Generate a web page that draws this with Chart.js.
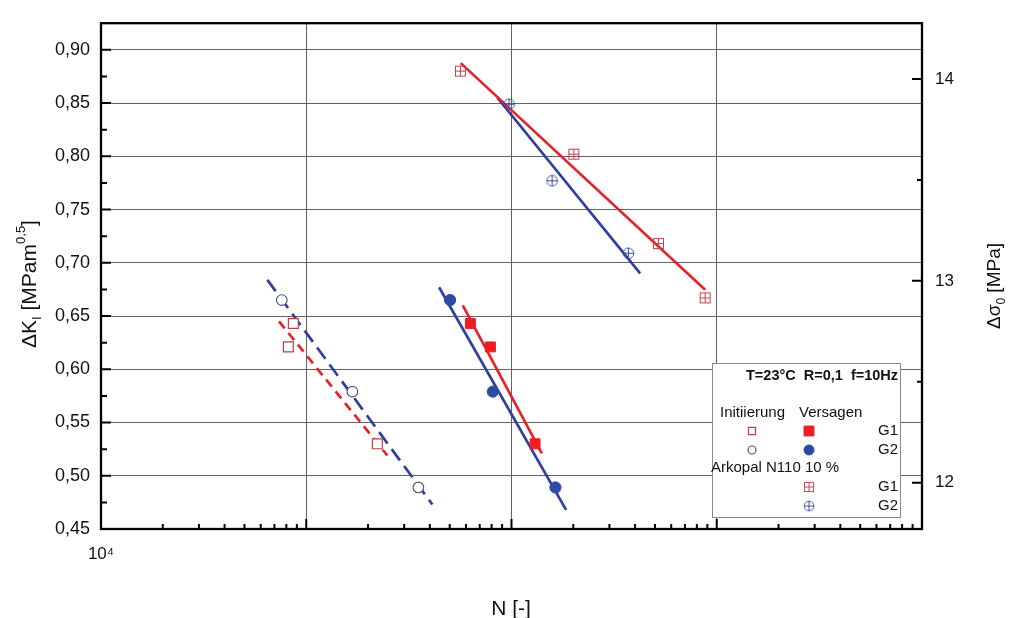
<!DOCTYPE html>
<html>
<head>
<meta charset="utf-8">
<script src="https://cdn.jsdelivr.net/npm/chart.js@4.4.0/dist/chart.umd.min.js"></script>
<style>
  html, body { margin: 0; padding: 0; background: #fff; }
  #wrap { width: 1009px; height: 618px; }
</style>
</head>
<body>
<div id="wrap"><canvas id="chart" width="1009" height="618"></canvas></div>
<script>
const FONT = "'Liberation Sans', Arial, sans-serif";

// Initiierung (offene Symbole)
const initG1N = [81800, 86500, 222000];
const initG1K = [0.621, 0.643, 0.530];
const initG2N = [76000, 167800, 351800];
const initG2K = [0.665, 0.579, 0.489];

// Versagen (gefuellte Symbole)
const failG1N = [630500, 789500, 1303000];
const failG1K = [0.643, 0.621, 0.530];
const failG2N = [502000, 811000, 1637000];
const failG2K = [0.665, 0.579, 0.489];

// Arkopal N110 10 %
const arkG1N = [563600, 2012000, 5200000, 8780000];
const arkG1K = [0.880, 0.802, 0.718, 0.667];
const arkG2N = [973000, 1577000, 3713000];
const arkG2K = [0.849, 0.777, 0.709];

// Ausgleichsgeraden, Anfang und Ende
const initG1FitN = [73700, 248500];
const initG1FitK = [0.645, 0.519];
const initG2FitN = [64640, 411600];
const initG2FitK = [0.684, 0.473];
const failG1FitN = [579000, 1405000];
const failG1FitK = [0.660, 0.521];
const failG2FitN = [443800, 1845000];
const failG2FitK = [0.677, 0.468];
const arkG1FitN = [566000, 8780000];
const arkG1FitK = [0.8875, 0.6746];
const arkG2FitN = [853800, 4233000];
const arkG2FitK = [0.855, 0.690];

// Achsen
const xTicks = [1e4, 1e5, 1e6, 1e7, 1e8];
const xTickLabels = ['10⁴', '', '', '', ''];
const yTicks = [0.45, 0.50, 0.55, 0.60, 0.65, 0.70, 0.75, 0.80, 0.85, 0.90];
const y2Ticks = [12, 13, 14];

const RED = '#e5232b';
const BLUE = '#2f3f9e';
const GRID = '#626262';

const pts = (n, k) => n.map((v, i) => ({ x: v, y: k[i] }));

function crossSquare(color) {
  const c = document.createElement('canvas');
  c.width = 13; c.height = 13;
  const g = c.getContext('2d');
  g.strokeStyle = color; g.lineWidth = 1;
  g.strokeRect(1.5, 1.5, 10, 10);
  g.beginPath(); g.moveTo(6.5, 1.5); g.lineTo(6.5, 11.5); g.moveTo(1.5, 6.5); g.lineTo(11.5, 6.5); g.stroke();
  return c;
}
function crossCircle(color) {
  const c = document.createElement('canvas');
  c.width = 13; c.height = 13;
  const g = c.getContext('2d');
  g.strokeStyle = color; g.lineWidth = 1;
  g.beginPath(); g.arc(6.5, 6.5, 5.3, 0, Math.PI * 2); g.stroke();
  g.beginPath(); g.moveTo(6.5, 1.2); g.lineTo(6.5, 11.8); g.moveTo(1.2, 6.5); g.lineTo(11.8, 6.5); g.stroke();
  return c;
}
const sqCross = crossSquare('#c2404a');
const ciCross = crossCircle('#3a4a99');

const mk = {
  initG1: { pointStyle: 'rect', pointRadius: 7, backgroundColor: '#fff', borderColor: '#b8423f', borderWidth: 1.2 },
  initG2: { pointStyle: 'circle', pointRadius: 5.3, backgroundColor: '#fff', borderColor: '#54567a', borderWidth: 1.2 },
  failG1: { pointStyle: 'rect', pointRadius: 7, backgroundColor: '#ee1c25', borderColor: '#ee1c25', borderWidth: 1 },
  failG2: { pointStyle: 'circle', pointRadius: 5.6, backgroundColor: '#2d4aa6', borderColor: '#2d4aa6', borderWidth: 1 },
  arkG1: { pointStyle: sqCross, pointRadius: 6 },
  arkG2: { pointStyle: ciCross, pointRadius: 6 }
};

const pointSet = (data, m) => ({ data, showLine: false, ...m, pointBorderColor: m.borderColor, pointBackgroundColor: m.backgroundColor, pointBorderWidth: m.borderWidth });
const lineSet = (data, color, dash) => ({
  data, showLine: true, pointRadius: 0, borderColor: color, borderWidth: 2.7, borderDash: dash || []
});

function richText(ctx, parts, cx, cy, angle) {
  ctx.save();
  ctx.translate(cx, cy);
  ctx.rotate(angle);
  ctx.textBaseline = 'alphabetic';
  ctx.textAlign = 'left';
  ctx.fillStyle = '#111';
  let w = 0;
  parts.forEach(p => { ctx.font = `${p.size}px ${FONT}`; p.w = ctx.measureText(p.t).width; w += p.w; });
  let x = -w / 2;
  const base = parts[0].size * 0.36;
  parts.forEach(p => { ctx.font = `${p.size}px ${FONT}`; ctx.fillText(p.t, x, base + (p.dy || 0)); x += p.w; });
  ctx.restore();
}

// Rahmen, innenliegende Teilstriche, Achsentitel und Legende
const decor = {
  id: 'decor',
  afterDatasetsDraw(chart) {
    const { ctx, chartArea: a, scales: { x, y, y2 } } = chart;
    ctx.save();
    ctx.strokeStyle = '#000';
    ctx.lineWidth = 2;
    ctx.beginPath();
    yTicks.forEach((v, i) => {
      const p = y.getPixelForValue(v);
      ctx.moveTo(a.left, p); ctx.lineTo(a.left + 10, p);
      if (i < yTicks.length - 1) {
        const m = y.getPixelForValue((v + yTicks[i + 1]) / 2);
        ctx.moveTo(a.left, m); ctx.lineTo(a.left + 6, m);
      }
    });
    y2Ticks.forEach((v, i) => {
      const p = y2.getPixelForValue(v);
      ctx.moveTo(a.right, p); ctx.lineTo(a.right - 10, p);
      if (i < y2Ticks.length - 1) {
        const m = y2.getPixelForValue((v + y2Ticks[i + 1]) / 2);
        ctx.moveTo(a.right, m); ctx.lineTo(a.right - 5, m);
      }
    });
    xTicks.forEach((v, i) => {
      const p = x.getPixelForValue(v);
      ctx.moveTo(p, a.bottom); ctx.lineTo(p, a.bottom - 10);
      if (i < xTicks.length - 1) {
        for (let k = 2; k <= 9; k++) {
          const m = x.getPixelForValue(v * k);
          ctx.moveTo(m, a.bottom); ctx.lineTo(m, a.bottom - 5);
        }
      }
    });
    ctx.stroke();
    ctx.lineWidth = 2.3;
    ctx.strokeRect(a.left, a.top, a.right - a.left, a.bottom - a.top);
    ctx.restore();
  },
  afterDraw(chart) {
    const ctx = chart.ctx;
    richText(ctx, [{ t: 'ΔK', size: 21 }, { t: 'I', size: 13, dy: 5 }, { t: ' [MPam', size: 21 }, { t: '0,5', size: 13, dy: -11 }, { t: ']', size: 21 }], 28, 284, -Math.PI / 2);
    richText(ctx, [{ t: 'Δσ', size: 19 }, { t: '0', size: 12, dy: 5 }, { t: ' [MPa]', size: 19 }], 993, 286, -Math.PI / 2);
    richText(ctx, [{ t: 'N [-]', size: 21 }], 511, 607, 0);

    // Legende
    ctx.save();
    ctx.fillStyle = '#fff';
    ctx.fillRect(712, 363, 188, 154);
    ctx.strokeStyle = '#8a8a8a';
    ctx.lineWidth = 1;
    ctx.strokeRect(712.5, 363.5, 188, 154);
    ctx.fillStyle = '#111';
    ctx.textBaseline = 'middle';
    ctx.font = `bold 14.5px ${FONT}`;
    ctx.fillText('T=23°C  R=0,1  f=10Hz', 746, 376);
    ctx.font = `15px ${FONT}`;
    ctx.fillText('Initiierung', 720, 413);
    ctx.fillText('Versagen', 799, 413);
    ctx.fillText('Arkopal N110 10 %', 711, 468);
    ctx.textAlign = 'right';
    ctx.fillText('G1', 898, 431);
    ctx.fillText('G2', 898, 450);
    ctx.fillText('G1', 898, 487);
    ctx.fillText('G2', 898, 506);
    const dp = (m, r, px, py) => {
      ctx.fillStyle = m.backgroundColor; ctx.strokeStyle = m.borderColor; ctx.lineWidth = m.borderWidth;
      Chart.helpers.drawPoint(ctx, { pointStyle: m.pointStyle, radius: r, borderWidth: m.borderWidth }, px, py);
    };
    dp(mk.initG1, 5, 752, 431);
    dp(mk.failG1, 7, 809, 431);
    dp(mk.initG2, 4, 752, 450);
    dp(mk.failG2, 5, 809, 450);
    ctx.drawImage(sqCross, 803, 481, 12, 12);
    ctx.drawImage(ciCross, 803, 500, 12, 12);
    ctx.restore();
  }
};

new Chart(document.getElementById('chart'), {
  type: 'scatter',
  data: {
    datasets: [
      pointSet(pts(initG1N, initG1K), mk.initG1),
      pointSet(pts(initG2N, initG2K), mk.initG2),
      pointSet(pts(failG1N, failG1K), mk.failG1),
      pointSet(pts(failG2N, failG2K), mk.failG2),
      pointSet(pts(arkG1N, arkG1K), mk.arkG1),
      pointSet(pts(arkG2N, arkG2K), mk.arkG2),
      lineSet(pts(initG1FitN, initG1FitK), RED, [9, 6]),
      lineSet(pts(initG2FitN, initG2FitK), BLUE, [14, 7]),
      lineSet(pts(failG1FitN, failG1FitK), RED),
      lineSet(pts(failG2FitN, failG2FitK), BLUE),
      lineSet(pts(arkG1FitN, arkG1FitK), RED),
      lineSet(pts(arkG2FitN, arkG2FitK), BLUE)
    ]
  },
  options: {
    responsive: false,
    animation: false,
    layout: { padding: { top: 12, left: 0, right: 0, bottom: 0 } },
    plugins: { legend: { display: false }, tooltip: { enabled: false } },
    scales: {
      x: {
        type: 'logarithmic', position: 'bottom', min: 1e4, max: 1e8,
        afterBuildTicks: s => { s.ticks = xTicks.map(v => ({ value: v })); },
        afterFit: s => { s.height = 89; },
        grid: { color: GRID, lineWidth: 1, drawTicks: false },
        border: { display: false },
        ticks: {
          autoSkip: false, maxRotation: 0, padding: 15, color: '#111',
          font: { family: FONT, size: 17 },
          callback: (v, i) => xTickLabels[i]
        }
      },
      y: {
        type: 'linear', position: 'left', min: 0.45, max: 0.925,
        afterBuildTicks: s => { s.ticks = yTicks.map(v => ({ value: v })); },
        afterFit: s => { s.width = 101; },
        grid: { color: GRID, lineWidth: 1, drawTicks: false },
        border: { display: false },
        ticks: {
          padding: 11, color: '#111', font: { family: FONT, size: 18 },
          callback: v => v.toFixed(2).replace('.', ',')
        }
      },
      y2: {
        type: 'linear', position: 'right', min: 11.771, max: 14.276,
        afterBuildTicks: s => { s.ticks = y2Ticks.map(v => ({ value: v })); },
        afterFit: s => { s.width = 87; },
        grid: { display: false, drawTicks: false },
        border: { display: false },
        ticks: {
          padding: 13, color: '#111', font: { family: FONT, size: 17 },
          callback: v => String(v)
        }
      }
    }
  },
  plugins: [decor]
});
</script>
</body>
</html>
